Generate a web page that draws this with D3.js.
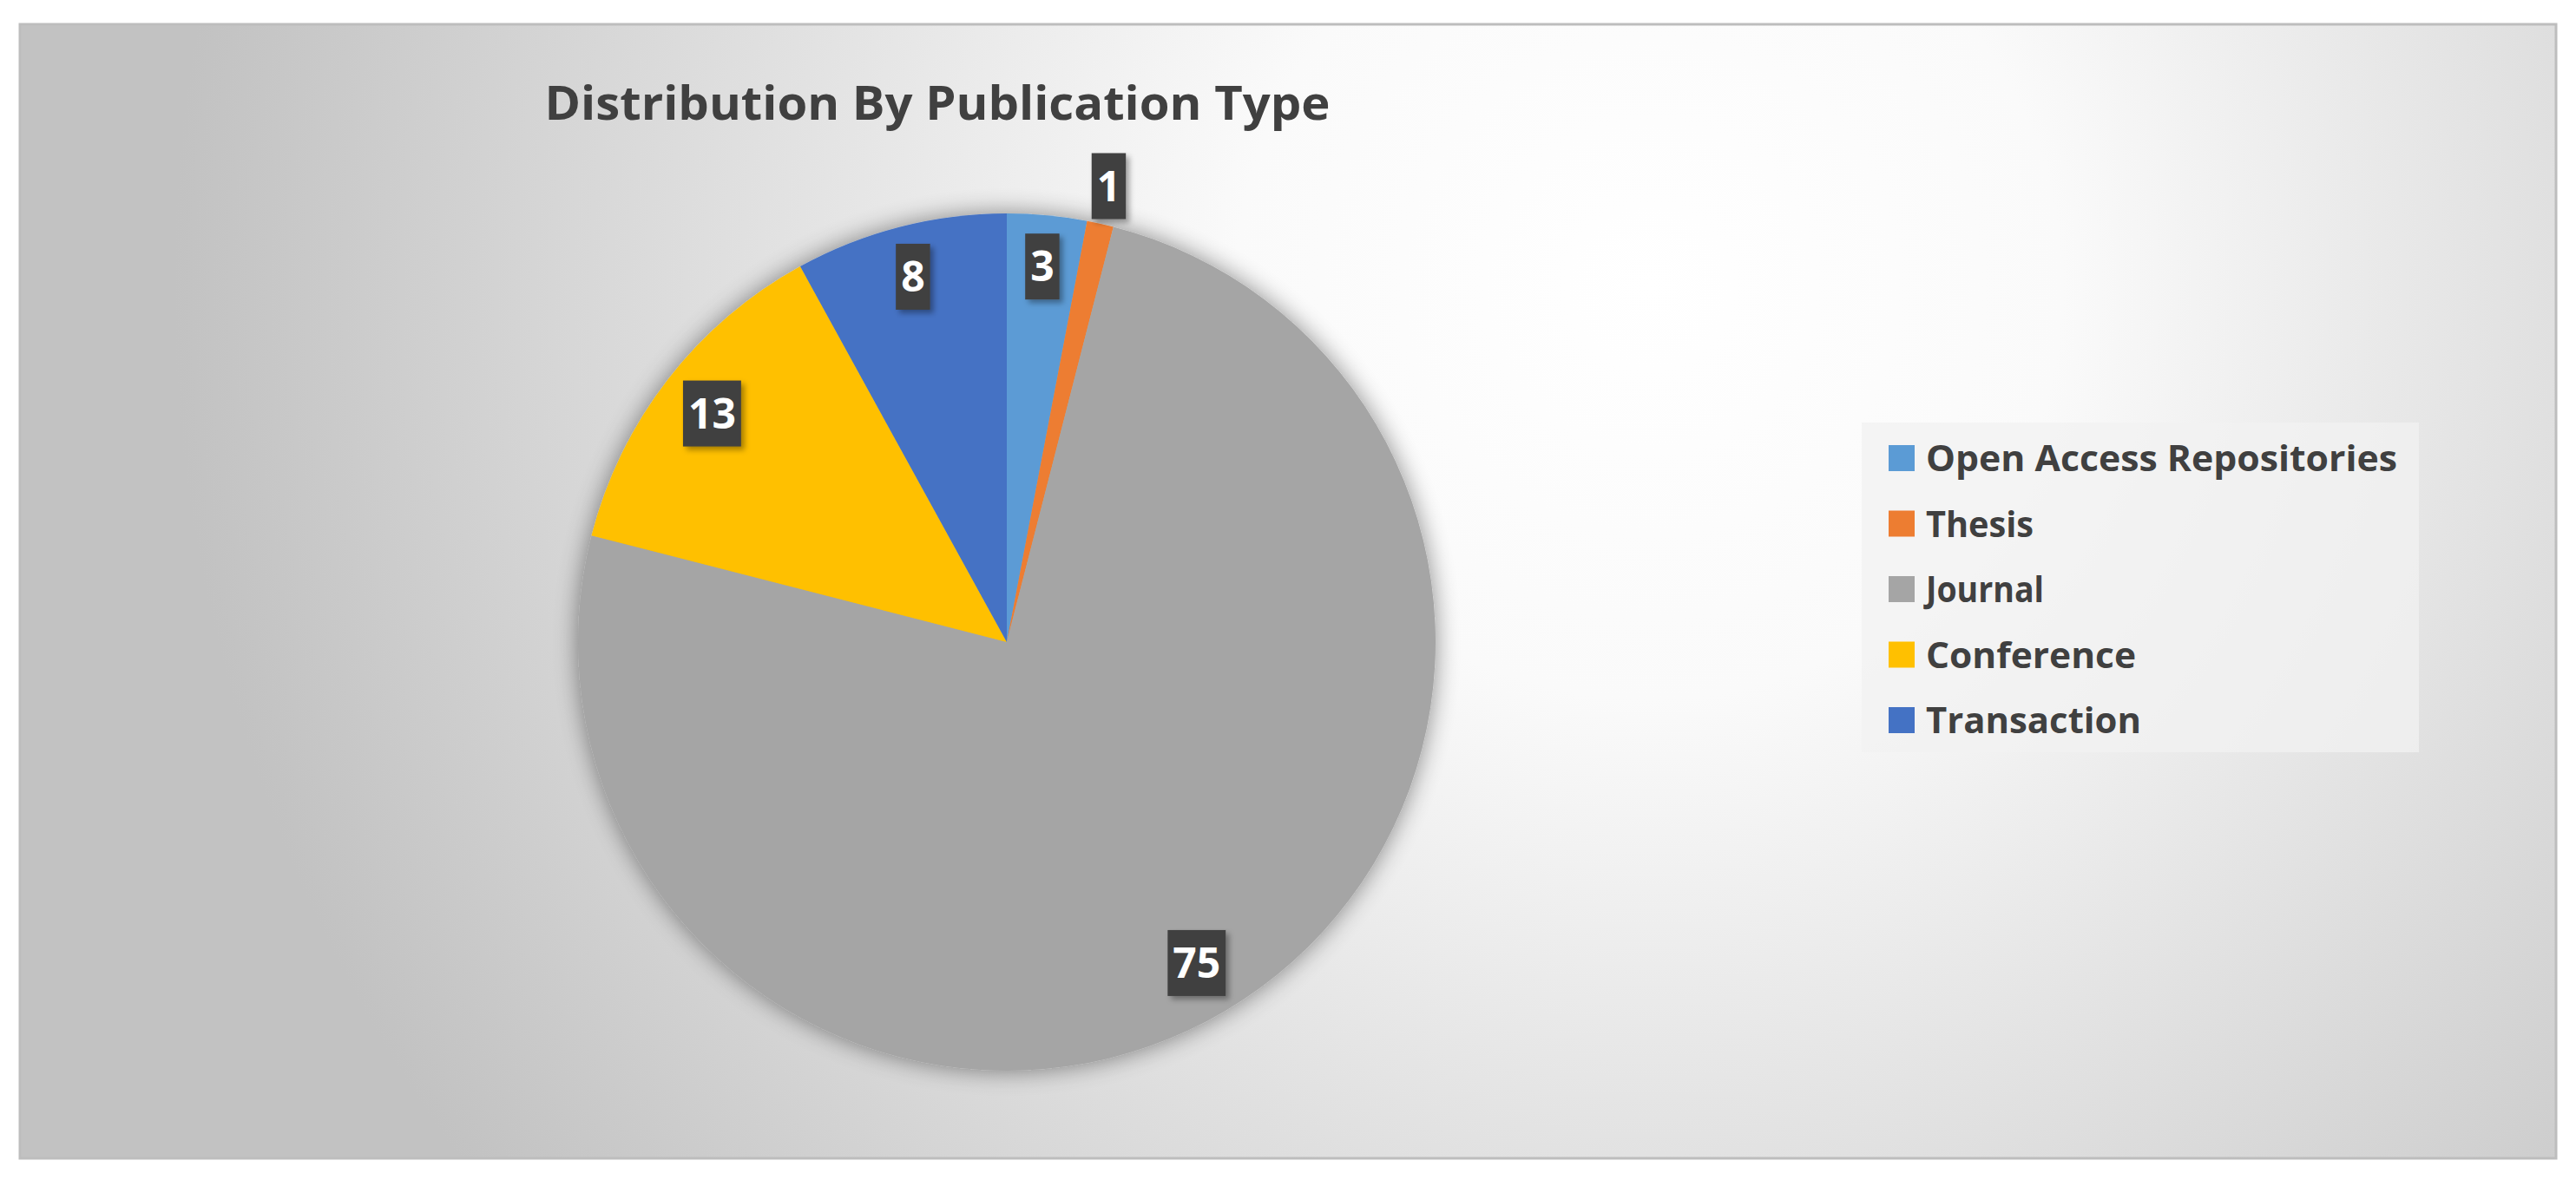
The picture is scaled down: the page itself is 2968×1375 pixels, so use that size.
<!DOCTYPE html>
<html><head><meta charset="utf-8">
<script src="https://cdn.jsdelivr.net/npm/d3@7"></script>
<style>body{margin:0;background:#fff}</style>
</head><body>
<svg id="c" width="2968" height="1375"></svg>
<script>
const categories = ["Open Access Repositories","Thesis","Journal","Conference","Transaction"];
const values = [3,1,75,13,8];
const colors = ["#5B9BD5","#ED7D31","#A5A5A5","#FFC000","#4472C4"];
const labelRadiusFactor = [0.88,1.09,0.87,0.87,0.88];

const svg = d3.select("#c");
const defs = svg.append("defs");
const rg = defs.append("radialGradient").attr("id","bg").attr("gradientUnits","userSpaceOnUse")
  .attr("cx",1900).attr("cy",330).attr("r",1700);
rg.append("stop").attr("offset","0").attr("stop-color","#ffffff");
rg.append("stop").attr("offset","0.28").attr("stop-color","#fafafa");
rg.append("stop").attr("offset","1").attr("stop-color","#c2c2c2");
const f = defs.append("filter").attr("id","sh").attr("x","-20%").attr("y","-20%").attr("width","140%").attr("height","140%");
f.append("feGaussianBlur").attr("in","SourceAlpha").attr("stdDeviation",14).attr("result","b");
f.append("feComponentTransfer").attr("in","b").attr("result","o2").append("feFuncA").attr("type","linear").attr("slope",0.45);
const m = f.append("feMerge"); m.append("feMergeNode").attr("in","o2"); m.append("feMergeNode").attr("in","SourceGraphic");
const f2 = defs.append("filter").attr("id","sh2").attr("x","-30%").attr("y","-30%").attr("width","160%").attr("height","160%");
f2.append("feDropShadow").attr("dx",4).attr("dy",4).attr("stdDeviation",3).attr("flood-color","#000").attr("flood-opacity",0.35);

svg.append("rect").attr("x",23).attr("y",28).attr("width",2922).attr("height",1307)
  .attr("fill","url(#bg)").attr("stroke","#bdbdbd").attr("stroke-width",3);

svg.append("text").attr("x",1080).attr("y",138).attr("text-anchor","middle")
  .attr("font-family","Open Sans, sans-serif").attr("font-weight","bold").attr("font-size",54)
  .attr("fill","#404040").attr("textLength",905).attr("lengthAdjust","spacingAndGlyphs").text("Distribution By Publication Type");

const cx=1160, cy=740, r=494;
const pie = d3.pie().sort(null).value(d=>d)(values);
const arc = d3.arc().innerRadius(0).outerRadius(r);
const g = svg.append("g").attr("transform",`translate(${cx},${cy})`);
g.append("g").attr("filter","url(#sh)").selectAll("path").data(pie).join("path")
  .attr("d",arc).attr("fill",(d,i)=>colors[i]);

const lab = g.selectAll("g.l").data(pie).join("g").attr("class","l").attr("transform",(d,i)=>{
  const a=(d.startAngle+d.endAngle)/2, rr=r*labelRadiusFactor[i];
  return `translate(${rr*Math.sin(a)},${-rr*Math.cos(a)})`;});
lab.each(function(d){
  const s=d3.select(this);
  const t=s.append("text").attr("text-anchor","middle").attr("dy","0.36em")
    .attr("font-family","Open Sans, sans-serif").attr("font-weight","bold").attr("font-size",48)
    .attr("fill","#fff").text(d.data);
  const bb=t.node().getBBox();
  s.insert("rect","text").attr("x",bb.x-6).attr("y",-38).attr("width",bb.width+12).attr("height",76)
    .attr("fill","#404040").attr("filter","url(#sh2)");
});

const lg = svg.append("g");
lg.append("rect").attr("x",2145).attr("y",487).attr("width",642).attr("height",380).attr("fill","#f2f2f2").attr("opacity",0.75);
const ly = d3.scalePoint().domain(categories).range([528,830]);
const it = lg.selectAll("g.i").data(categories).join("g").attr("transform",d=>`translate(2176,${ly(d)})`);
it.append("rect").attr("x",0).attr("y",-15).attr("width",30).attr("height",30).attr("fill",(d,i)=>colors[i]);
it.append("text").attr("x",43).attr("dy","0.36em").attr("font-family","Open Sans, sans-serif")
  .attr("font-weight","bold").attr("font-size",42).attr("fill","#404040")
  .attr("textLength",(d,i)=>[543,124,136,242,248][i]).attr("lengthAdjust","spacingAndGlyphs").text(d=>d);
</script>
</body></html>
